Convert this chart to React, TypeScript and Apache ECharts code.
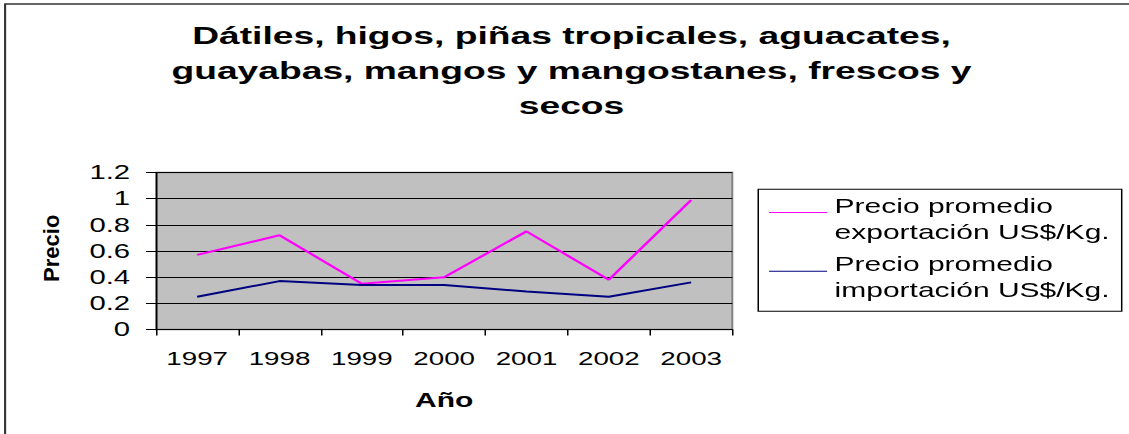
import React, { useEffect, useRef } from 'react';
import * as echarts from 'echarts';

const years = ['1997', '1998', '1999', '2000', '2001', '2002', '2003'];
const exportPrices = [0.57, 0.72, 0.35, 0.4, 0.75, 0.38, 0.99];
const importPrices = [0.25, 0.37, 0.34, 0.34, 0.29, 0.25, 0.36];
const seriesNames = ['Precio promedio\nexportación US$/Kg.', 'Precio promedio\nimportación US$/Kg.'];
const seriesColors = ['#FF00FF', '#000080'];
const titleText = 'Dátiles, higos, piñas tropicales, aguacates,\nguayabas, mangos y mangostanes, frescos y\nsecos';
const xAxisName = 'Año';
const yAxisName = 'Precio';

const SX = 1.5;
const W = 1129 / SX;
const H = 434;
const FF = '"Liberation Sans", Arial, sans-serif';

export default function App() {
  const ref = useRef<HTMLDivElement>(null);
  useEffect(() => {
    if (!ref.current) return;
    const chart = echarts.init(ref.current, null, { renderer: 'svg', width: W, height: H });
    chart.setOption({
      animation: false,
      backgroundColor: '#fff',
      title: {
        text: titleText,
        left: 381,
        textAlign: 'center',
        top: 18,
        padding: 0,
        textStyle: { fontFamily: FF, fontSize: 24.8, fontWeight: 'bold', color: '#000', lineHeight: 35 },
      },
      legend: {
        orient: 'vertical',
        left: 512.7,
        top: 192.7,
        padding: 0,
        itemGap: 6.7,
        itemWidth: 38.7,
        itemHeight: 54,
        icon: 'path://M0,9.8H100V12.2H0Z M0,0H0.01V0.01H0Z M0,54H0.01V54.01H0Z',
        itemStyle: { borderWidth: 0 },
        textStyle: { fontFamily: FF, fontSize: 20, lineHeight: 26, color: '#000' },
        data: seriesNames,
      },
      grid: {
        left: 104,
        right: W - 488.2,
        top: 172.5,
        bottom: H - 329.5,
        show: true,
        backgroundColor: '#C0C0C0',
        borderColor: '#808080',
        borderWidth: 1.3,
        containLabel: false,
        outerBoundsMode: 'none',
      },
      xAxis: {
        type: 'category',
        data: years,
        boundaryGap: true,
        axisLine: { show: true, lineStyle: { color: '#000', width: 1 } },
        axisTick: { show: true, length: 6, lineStyle: { color: '#000', width: 1 } },
        axisLabel: { fontFamily: FF, fontSize: 18.5, color: '#000', margin: 20 },
        splitLine: { show: false },
        name: xAxisName,
        nameLocation: 'middle',
        nameGap: 60,
        nameTextStyle: { fontFamily: FF, fontSize: 20, fontWeight: 'bold', color: '#000' },
      },
      yAxis: {
        type: 'value',
        min: 0,
        max: 1.2,
        interval: 0.2,
        axisLine: { show: true, lineStyle: { color: '#000', width: 1 } },
        axisTick: { show: true, length: 6.7, lineStyle: { color: '#000', width: 1 } },
        axisLabel: {
          fontFamily: FF,
          fontSize: 19.5,
          color: '#000',
          margin: 17.3,
          formatter: (v: number) => String(+v.toFixed(1)),
        },
        splitLine: { show: true, lineStyle: { color: '#000', width: 1 } },
      },
      graphic: [
        {
          type: 'rect',
          silent: true,
          shape: { x: 3.4, y: 4, width: 2000, height: 2000 },
          style: { fill: 'none', stroke: '#333', lineWidth: 1.4 },
        },
        {
          type: 'rect',
          silent: true,
          shape: { x: 505.5, y: 189.3, width: 242.3, height: 122 },
          style: { fill: 'none', stroke: '#000', lineWidth: 1 },
        },
        {
          type: 'text',
          silent: true,
          x: 34.2,
          y: 248.3,
          rotation: Math.PI / 2,
          scaleY: 1 / SX,
          style: {
            text: yAxisName,
            fontFamily: FF,
            fontSize: 22,
            fontWeight: 'bold',
            fill: '#000',
            align: 'center',
            verticalAlign: 'middle',
          },
        },
      ],
      series: [
        {
          name: seriesNames[0],
          type: 'line',
          data: exportPrices,
          symbol: 'none',
          color: seriesColors[0],
          itemStyle: { color: seriesColors[0] },
          lineStyle: { color: seriesColors[0], width: 2 },
        },
        {
          name: seriesNames[1],
          type: 'line',
          data: importPrices,
          symbol: 'none',
          color: seriesColors[1],
          itemStyle: { color: seriesColors[1] },
          lineStyle: { color: seriesColors[1], width: 2 },
        },
      ],
    });
    return () => chart.dispose();
  }, []);
  return (
    <div
      ref={ref}
      style={{
        position: 'fixed',
        left: 0,
        top: 0,
        width: W,
        height: H,
        transform: `scaleX(${SX})`,
        transformOrigin: '0 0',
      }}
    />
  );
}
